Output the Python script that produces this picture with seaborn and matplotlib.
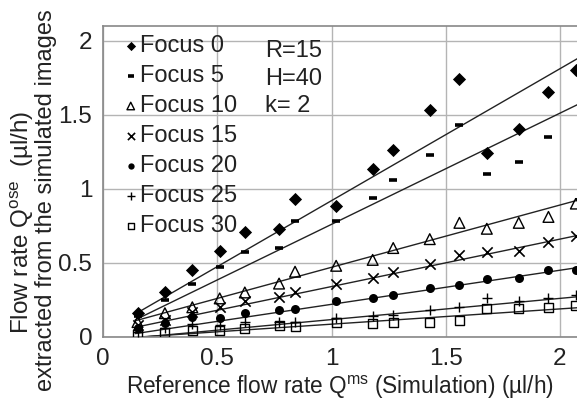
import numpy as np
import pandas as pd
import matplotlib
matplotlib.use("Agg")
import matplotlib.pyplot as plt
import seaborn as sns

# ---- data ----
x_ref = [0.15, 0.27, 0.39, 0.51, 0.62, 0.77, 0.84, 1.02, 1.18, 1.27, 1.43, 1.56, 1.68, 1.82, 1.95, 2.07]
focus0  = [0.16, 0.30, 0.45, 0.58, 0.71, 0.73, 0.93, 0.885, 1.13, 1.26, 1.53, 1.74, 1.24, 1.40, 1.65, 1.80]
focus5  = [0.14, 0.25, 0.36, 0.47, 0.57, 0.60, 0.78, 0.78, 0.94, 1.06, 1.23, 1.43, 1.10, 1.18, 1.35, np.nan]
focus10 = [0.10, 0.16, 0.20, 0.26, 0.30, 0.36, 0.44, 0.48, 0.52, 0.60, 0.66, 0.77, 0.73, 0.77, 0.81, 0.90]
focus15 = [0.08, 0.115, 0.17, 0.20, 0.24, 0.27, 0.30, 0.36, 0.40, 0.44, 0.49, 0.55, 0.57, 0.58, 0.64, 0.68]
focus20 = [0.06, 0.095, 0.135, 0.13, 0.16, 0.18, 0.19, 0.24, 0.26, 0.28, 0.33, 0.35, 0.39, 0.40, 0.45, 0.45]
focus25 = [0.035, 0.06, 0.09, 0.08, 0.10, 0.10, 0.10, 0.13, 0.14, 0.15, 0.18, 0.20, 0.26, 0.24, 0.26, 0.28]
focus30 = [0.015, 0.03, 0.04, 0.04, 0.06, 0.075, 0.07, 0.095, 0.09, 0.10, 0.095, 0.11, 0.195, 0.195, 0.20, 0.21]

labels = ["Focus 0", "Focus 5", "Focus 10", "Focus 15", "Focus 20", "Focus 25", "Focus 30"]
series = [focus0, focus5, focus10, focus15, focus20, focus25, focus30]

# linear fit lines (slope, intercept)
fit_slope = [0.89, 0.75, 0.42, 0.32, 0.23, 0.143, 0.103]
fit_intercept = [0.03, 0.01, 0.05, 0.02, -0.01, -0.026, -0.017]
fit_x = [0.14, 2.1]

xticks = [0, 0.5, 1, 1.5, 2]
yticks = [0, 0.5, 1, 1.5, 2]
xtick_labels = ["0", "0.5", "1", "1.5", "2"]
ytick_labels = ["0", "0.5", "1", "1.5", "2"]

params_text = "R=15\nH=40\nk= 2"
xlabel = r"Reference flow rate Q$^{\mathregular{ms}}$ (Simulation) (µl/h)"
ylabel_line1 = r"Flow rate Q$^{\mathregular{ose}}$  (µl/h)"
ylabel_line2 = "extracted from the simulated images"

# ---- styling ----
sns.set_style("white")
plt.rcParams["font.family"] = ["Liberation Sans", "DejaVu Sans"]
plt.rcParams["mathtext.fontset"] = "custom"
plt.rcParams["mathtext.rm"] = "Liberation Sans"

markers = ["D", "_", "^", "x", "o", "+", "s"]
msizes = [45, 32, 60, 55, 42, 60, 42]
faces = ["black", "black", "none", "black", "black", "black", "none"]
lws = [0, 2.6, 1.0, 1.2, 0, 1.0, 1.0]

fig = plt.figure(figsize=(5.77, 4.03), dpi=100)
ax = fig.add_axes([0.179, 0.164, 0.821, 0.772])

grid_c = "#b4b4b4"
for xv in xticks:
    ax.axvline(xv, color=grid_c, lw=1.0, zorder=0)
for yv in yticks:
    ax.axhline(yv, color=grid_c, lw=1.0, zorder=0)

# fit lines
for a, b in zip(fit_slope, fit_intercept):
    fx = np.array(fit_x)
    sns.lineplot(x=fx, y=a * fx + b, ax=ax, color="#222222", lw=1.0, zorder=2)

for lab, ys, m, s, fc, lw in zip(labels, series, markers, msizes, faces, lws):
    df = pd.DataFrame({"x": x_ref, "y": ys}).dropna()
    kw = dict(marker=m, s=s, linewidths=lw, zorder=3)
    if fc == "none":
        kw.update(facecolors="none", edgecolors="black")
    else:
        kw.update(color="black", edgecolor="black")
    sns.scatterplot(data=df, x="x", y="y", ax=ax, label=lab, **kw)

ax.set_xlim(0, 2.075)
ax.set_ylim(0, 2.1)
ax.set_xticks(xticks)
ax.set_xticklabels(xtick_labels)
ax.set_yticks(yticks)
ax.set_yticklabels(ytick_labels)
ax.tick_params(axis="both", labelsize=17.5, length=5, width=1, direction="out", pad=3,
               colors="#666666", labelcolor="#222222")

for sp in ["left", "bottom", "top"]:
    ax.spines[sp].set_color("#888888")
    ax.spines[sp].set_linewidth(1.2)
ax.spines["right"].set_visible(False)

ax.set_xlabel(xlabel, fontsize=16.3, color="#222222", labelpad=3)
ax.set_ylabel("")
fig.text(22 / 577, 1 - 222 / 403, ylabel_line1, rotation=90, ha="center", va="center",
         fontsize=17.5, color="#222222")
fig.text(46 / 577, 1 - 200 / 403, ylabel_line2, rotation=90, ha="center", va="center",
         fontsize=17, color="#222222")

leg = ax.legend(loc="upper left", bbox_to_anchor=(0.043, 0.97), frameon=False, fontsize=17,
                handletextpad=0.1, labelspacing=0.34, markerscale=0.7, handlelength=0.6,
                borderaxespad=0.0, borderpad=0.0)
for t in leg.get_texts():
    t.set_color("#222222")

ax.text((265 - 103.5) / 473.5, 0.955, params_text, transform=ax.transAxes, fontsize=17,
        va="top", ha="left", color="#222222", linespacing=1.34)

fig.savefig("out.png", dpi=100)
